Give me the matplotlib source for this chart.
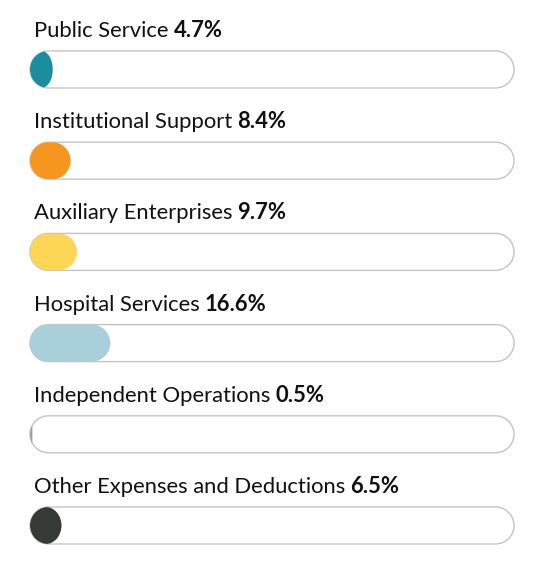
import numpy as np
import matplotlib
matplotlib.use("Agg")
import matplotlib.pyplot as plt
from matplotlib.patches import Polygon, Ellipse

categories = ["Public Service", "Institutional Support", "Auxiliary Enterprises",
              "Hospital Services", "Independent Operations", "Other Expenses and Deductions"]
values = [4.7, 8.4, 9.7, 16.6, 0.5, 6.5]
colors = ["#1b8e9e", "#f7961f", "#fdd655", "#a9d0da", "#a0a0a0", "#353a37"]

W, H = 541, 571
fig = plt.figure(figsize=(W / 100, H / 100), dpi=100)
ax = fig.add_axes([0, 0, 1, 1])
ax.set_xlim(0, W)
ax.set_ylim(H, 0)
ax.axis("off")

x0, x1 = 30, 514
bar_h = 37
top0, step = 51, 91.2
font = "Lato"
fs = 15.8


def pill(x, top, w, r, **kw):
    # stadium outline with true semicircle ends
    cy = top + r
    a = np.linspace(-np.pi / 2, np.pi / 2, 60)
    right = np.column_stack([x + w - r + r * np.cos(a), cy + r * np.sin(a)])
    left = np.column_stack([x + r - r * np.cos(a), cy - r * np.sin(a)])
    return Polygon(np.vstack([right, left]), closed=True, **kw)


fig.canvas.draw()
renderer = fig.canvas.get_renderer()

for i, (cat, val, col) in enumerate(zip(categories, values, colors)):
    top = top0 + i * step
    r = bar_h / 2
    ax.add_patch(pill(x0, top, x1 - x0, r, facecolor="white",
                      edgecolor="#c4c4c4", lw=1.0, zorder=1))
    clip = pill(x0, top, x1 - x0, r, facecolor="none", edgecolor="none")
    ax.add_patch(clip)

    w = (x1 - x0) * val / 100
    if w >= bar_h:
        fill = pill(x0, top, w, r, facecolor=col, edgecolor="none", zorder=2)
    else:
        fill = Ellipse((x0 + w / 2, top + r), w, bar_h, facecolor=col,
                       edgecolor="none", zorder=2)
    ax.add_patch(fill)
    fill.set_clip_path(clip)

    base = top - 14
    t = ax.text(34, base, cat, fontsize=fs, family=font, color="#111111",
                va="baseline", ha="left")
    bb = t.get_window_extent(renderer=renderer)
    xb = ax.transData.inverted().transform((bb.x1, bb.y0))[0] + 5
    ax.text(xb, base, f"{val}%", fontsize=fs, family=font, weight="bold",
            color="#111111", va="baseline", ha="left")

fig.savefig("out.png", dpi=100)
